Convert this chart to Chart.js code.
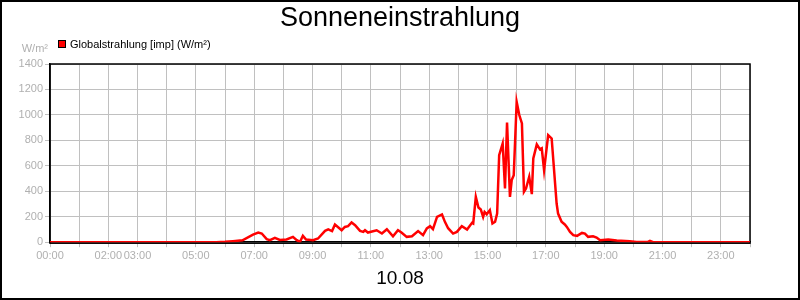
<!DOCTYPE html>
<html>
<head>
    <title>Sonneneinstrahlung</title>
    <script src="https://cdn.jsdelivr.net/npm/chart.js"></script>
    <style>
        body { margin: 0; background: #fff; }
    </style>
</head>
<body>
    <canvas id="grafico" width="800" height="300"></canvas>

    <script>
        // Stunden (x) und Messwerte (W/m²) des Tages
        const stunden = [
            0, 5.7, 6.0, 6.27, 6.6, 6.96, 7.14, 7.26, 7.43, 7.54, 7.71, 7.88, 8.11, 8.33, 8.46, 8.57, 8.67, 8.78,
            9.02, 9.19, 9.43, 9.54, 9.67, 9.77, 10.0, 10.11, 10.22, 10.34, 10.46, 10.63, 10.74, 10.8, 10.9,
            11.2, 11.38, 11.55, 11.76, 11.93, 12.05, 12.23, 12.41, 12.62, 12.79, 12.92, 13.03, 13.13, 13.27,
            13.44, 13.54, 13.65, 13.82, 13.95, 14.12, 14.3, 14.47, 14.51, 14.6, 14.69, 14.77, 14.85, 14.9,
            14.97, 15.08, 15.17, 15.26, 15.33, 15.4, 15.52, 15.6, 15.67, 15.77, 15.83, 15.9, 16.0, 16.09,
            16.18, 16.25, 16.32, 16.43, 16.52, 16.57, 16.69, 16.8, 16.86, 16.94, 17.08, 17.2, 17.37, 17.42,
            17.54, 17.65, 17.72, 17.83, 17.94, 18.07, 18.24, 18.34, 18.45, 18.62, 18.74, 18.86, 19.14, 19.43,
            19.88, 20.11, 20.5, 20.57, 20.68, 24
        ];
        const globalstrahlung = [
            0, 0, 3, 8, 15, 60, 76, 68, 24, 16, 34, 18, 21, 42, 16, 2, 50, 21,
            16, 29, 89, 100, 87, 139, 94, 120, 126, 155, 134, 89, 81, 94, 76,
            94, 68, 102, 47, 94, 76, 42, 47, 87, 55, 108, 126, 102, 199,
            218, 160, 110, 68, 81, 126, 100, 152, 147, 356, 273, 257, 199, 238,
            220, 252, 147, 160, 225, 684, 776, 422, 941, 356, 488, 527, 1103, 999,
            933, 396, 422, 514, 378, 658, 768, 729, 737, 566, 841, 815, 304, 225,
            160, 139, 120, 81, 55, 50, 73, 68, 42, 47, 37, 16, 21, 13,
            8, 2, 2, 10, 0, 0
        ];

        // Beschriftete Stunden der x-Achse
        const stundenLabels = [0, 2, 3, 5, 7, 9, 11, 13, 15, 17, 19, 21, 23];

        const titel = 'Sonneneinstrahlung';
        const datum = '10.08';
        const reihenName = 'Globalstrahlung [imp] (W/m²)';
        const einheit = 'W/m²';

        const grau = '#c0c0c0';
        const grauText = '#b0b0b0';

        Chart.defaults.font.family = "'Liberation Sans', Arial, sans-serif";

        // Rahmen, Legende und Einheit
        const extras = {
            id: 'extras',
            beforeDatasetsDraw(chart) {
                const a = chart.chartArea;
                const ctx = chart.ctx;
                ctx.save();
                ctx.strokeStyle = '#000';
                ctx.lineWidth = 1.5;
                ctx.strokeRect(a.left, a.top, a.right - a.left, a.bottom - a.top + 1);
                ctx.restore();
            },
            afterDraw(chart) {
                const ctx = chart.ctx;
                ctx.save();
                ctx.strokeStyle = '#000';
                ctx.lineWidth = 2;
                ctx.strokeRect(1, 1, chart.width - 2, chart.height - 2);

                const ds = chart.data.datasets[0];
                ctx.lineWidth = 1;
                ctx.fillStyle = ds.borderColor;
                ctx.fillRect(58.5, 40.5, 7, 7);
                ctx.strokeRect(58.5, 40.5, 7, 7);

                ctx.font = "11px 'Liberation Sans', Arial, sans-serif";
                ctx.textBaseline = 'middle';
                ctx.textAlign = 'left';
                ctx.fillStyle = '#000';
                ctx.fillText(ds.label, 70, 44.5);

                ctx.fillStyle = grauText;
                ctx.textAlign = 'right';
                ctx.fillText(einheit, 48, 49);
                ctx.restore();
            }
        };

        const ctx = document.getElementById('grafico').getContext('2d');
        const myChart = new Chart(ctx, {
            type: 'line',
            data: {
                datasets: [{
                    label: reihenName,
                    data: stunden.map((h, i) => ({ x: h, y: globalstrahlung[i] })),
                    borderColor: '#ff0000',
                    backgroundColor: '#ff0000',
                    borderWidth: 2.5,
                    pointRadius: 0,
                    tension: 0,
                    fill: false
                }]
            },
            options: {
                responsive: false,
                animation: false,
                layout: {
                    padding: { top: 0, left: 0, right: 0, bottom: 10 }
                },
                scales: {
                    x: {
                        type: 'linear',
                        min: 0,
                        max: 24,
                        afterFit: s => { s.height = 25; },
                        grid: { color: grau, tickLength: 5, lineWidth: 1 },
                        border: { color: '#000', width: 1.5 },
                        ticks: {
                            stepSize: 1,
                            autoSkip: false,
                            maxRotation: 0,
                            padding: 2,
                            color: grauText,
                            font: { size: 11 },
                            callback: v => stundenLabels.includes(v) ? String(v).padStart(2, '0') + ':00' : ''
                        }
                    },
                    y: {
                        min: 0,
                        max: 1400,
                        afterFit: s => { s.width = 50; },
                        grid: { color: grau, tickLength: 5, lineWidth: 1 },
                        border: { color: '#000', width: 1.5 },
                        ticks: {
                            stepSize: 200,
                            padding: 2,
                            color: grauText,
                            font: { size: 11 },
                            callback: v => String(v)
                        }
                    },
                    // leere Achse rechts, damit Titel mittig bleibt
                    rechts: {
                        position: 'right',
                        min: 0,
                        max: 1400,
                        afterFit: s => { s.width = 50; },
                        grid: { display: false, drawOnChartArea: false },
                        border: { display: false },
                        ticks: { display: false }
                    }
                },
                plugins: {
                    legend: { display: false },
                    tooltip: { enabled: false },
                    title: {
                        display: true,
                        text: titel,
                        color: '#000',
                        font: { size: 27, weight: 'normal' },
                        padding: { top: 2, bottom: 29.6 }
                    },
                    subtitle: {
                        display: true,
                        text: datum,
                        position: 'bottom',
                        color: '#000',
                        font: { size: 19, weight: 'normal' },
                        padding: { top: 0, bottom: 0 }
                    }
                }
            },
            plugins: [extras]
        });
    </script>
</body>
</html>
